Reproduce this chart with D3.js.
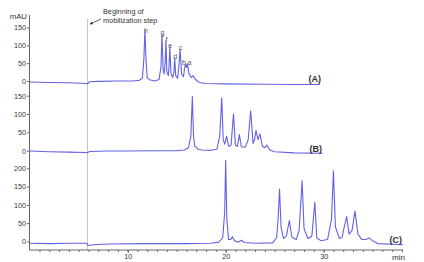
<!DOCTYPE html>
<html>
<head>
<meta charset="utf-8">
<script src="https://cdn.jsdelivr.net/npm/d3@7"></script>
<style>
  body { margin: 0; background: #fff; }
  svg { display: block; font-family: "Liberation Sans", Arial, sans-serif; }
  .ax text { fill: #333; font-size: 7.2px; }
  .ax line, .ax path { stroke: #666; }
</style>
</head>
<body>
<svg id="chart" width="424" height="262"></svg>
<script>
// chromatograms, [time (min), signal (mAU)]
var traceA = [[0,-3],[2,-4],[4,-5],[5.8,-7],[5.9,-8],[6.1,-2],[7,-1],[9,0],[10.5,0],[11.2,2],[11.5,8],[11.65,60],[11.76,143],[11.87,60],[12.0,8],[12.3,3],[12.8,0],[13.2,4],[13.4,40],[13.5,131],[13.62,30],[13.72,20],[13.82,50],[13.9,113],[14.0,25],[14.15,15],[14.22,40],[14.3,96],[14.42,20],[14.6,10],[14.72,25],[14.8,64],[14.9,15],[15.1,8],[15.22,40],[15.35,89],[15.5,20],[15.7,12],[15.8,35],[15.9,48],[16.0,38],[16.1,48],[16.25,20],[16.5,10],[16.7,15],[16.9,5],[17.3,-4],[18,-7],[20,-8],[24,-9],[27,-10],[29.6,-10]];
var traceB = [[0,-1],[2,-3],[4,-4],[5.8,-5],[5.9,-6],[6.1,-2],[8,-1],[10,-1],[13,0],[15,0],[15.8,2],[16.2,8],[16.45,40],[16.6,148],[16.72,40],[16.85,12],[17.0,9],[17.2,4],[17.6,2],[18.5,1],[19.1,4],[19.4,40],[19.6,144],[19.75,30],[19.9,18],[20.1,39],[20.3,12],[20.55,15],[20.8,100],[21.0,15],[21.2,12],[21.4,44],[21.6,10],[22.0,10],[22.3,30],[22.55,109],[22.8,20],[22.95,30],[23.1,55],[23.3,30],[23.5,46],[23.75,12],[24.0,8],[24.2,15],[24.5,2],[25,-3],[27,-6],[29.9,-7]];
var traceC = [[0,-5],[2,-6],[4,-5],[5.8,-5],[5.95,-11],[6.5,-9],[8,-7],[12,-6],[16,-6],[18.5,-5],[19.3,-2],[19.7,10],[19.9,80],[20.0,221],[20.12,60],[20.3,5],[20.5,5],[20.7,13],[20.9,2],[21.3,-2],[21.6,3],[21.9,-3],[23,-5],[24.8,-4],[25.2,10],[25.35,60],[25.5,143],[25.65,40],[25.9,8],[26.2,15],[26.5,57],[26.75,12],[27.2,5],[27.5,30],[27.8,166],[28.0,35],[28.4,8],[28.8,15],[29.1,107],[29.3,10],[29.7,2],[30.4,5],[30.8,60],[31.0,193],[31.2,40],[31.6,8],[31.9,12],[32.1,40],[32.35,68],[32.6,20],[32.9,30],[33.2,83],[33.5,20],[33.9,5],[34.3,5],[34.65,9],[35,2],[35.5,-6],[37,-8],[38.1,-9]];

// peak letters on trace A
var peakNames = ["h","g","f","e","d","c","b","a"];
var peakTimes = [11.76,13.5,13.9,14.3,14.8,15.35,15.9,16.15];
var peakTops  = [143,131,113,96,64,89,48,48];

var ticksAB = [0,50,100,150];
var ticksC = [0,50,100,150,200];
var xMajor = [10,20,30];
var startTime = 5.9;

var svg = d3.select('#chart');
var col = "#6262e6";

var x = d3.scaleLinear().domain([0, 38.1]).range([29.7, 403]);

// one y scale per stacked panel
var yA = d3.scaleLinear().domain([0,150]).range([81, 27.5]);
var yB = d3.scaleLinear().domain([0,150]).range([150.7, 95.7]);
var yC = d3.scaleLinear().domain([0,200]).range([241.4, 168.3]);

// start of mobilization
svg.append("line")
    .attr("x1", x(startTime)).attr("x2", x(startTime))
    .attr("y1", 19).attr("y2", 250)
    .attr("stroke", "#c4c4c4").attr("stroke-width", 1);

// y axes
function yAxis(sc, vals){
    var g = svg.append("g").attr("class","ax")
        .attr("transform","translate(29.5,0)")
        .call(d3.axisLeft(sc).tickValues(vals).tickSize(2.5).tickPadding(1));
    g.select(".domain").remove();
}
yAxis(yA, ticksAB);
yAxis(yB, ticksAB);
yAxis(yC, ticksC);

svg.append("line").attr("x1",29.5).attr("x2",29.5).attr("y1",15).attr("y2",250)
    .attr("stroke","#666");

// x axis with minor ticks
svg.append("g").attr("class","ax")
    .attr("transform","translate(0,250)")
    .call(d3.axisBottom(x).tickValues(d3.range(1,39)).tickSize(2).tickFormat(""))
    .select(".domain").attr("d","M29.5,0H403");
svg.append("g").attr("class","ax")
    .attr("transform","translate(0,250)")
    .call(d3.axisBottom(x).tickValues(xMajor).tickSize(3).tickPadding(1))
    .select(".domain").remove();

svg.append("text").attr("x",405).attr("y",260).attr("text-anchor","end")
    .attr("font-size",8).attr("fill","#333").text("min");
svg.append("text").attr("x",27).attr("y",19).attr("text-anchor","end")
    .attr("font-size",7.8).attr("fill","#333").text("mAU");

// traces
function trace(data, sc){
    svg.append("path").datum(data)
        .attr("fill","none").attr("stroke",col).attr("stroke-width",1.1)
        .attr("stroke-linejoin","round")
        .attr("d", d3.line().x(function(d){ return x(d[0]); }).y(function(d){ return sc(d[1]); }));
}
trace(traceA, yA);
trace(traceB, yB);
trace(traceC, yC);

// peak labels
svg.selectAll(".pk").data(peakNames).enter().append("text")
    .attr("class","pk")
    .attr("x", function(d,i){ return x(peakTimes[i]) + (d=="h" ? 1 : (d=="b" ? -1.5 : (d=="a" ? 1.5 : 0.5))); })
    .attr("y", function(d,i){ return yA(peakTops[i]) + (d=="h" ? 3.5 : 1); })
    .attr("text-anchor","middle").attr("font-size",7).attr("fill","#555")
    .text(function(d){ return d; });

// trace names
var names = ["(A)","(B)","(C)"];
var nameX = [321, 322, 402];
var nameY = [81.5, 152, 242.5];
svg.selectAll(".nm").data(names).enter().append("text")
    .attr("class","nm")
    .attr("x", function(d,i){ return nameX[i]; })
    .attr("y", function(d,i){ return nameY[i]; })
    .attr("text-anchor","end").attr("font-size",9).attr("font-weight","bold").attr("fill","#333")
    .text(function(d){ return d; });

// annotation
svg.append("text").attr("x",103).attr("y",13.5).attr("font-size",7.3).attr("fill","#333").text("Beginning of");
svg.append("text").attr("x",103).attr("y",23).attr("font-size",7.3).attr("fill","#333").text("mobilization step");
svg.append("defs").append("marker").attr("id","arr")
    .attr("viewBox","0 0 10 10").attr("refX",9).attr("refY",5)
    .attr("markerWidth",4).attr("markerHeight",4).attr("orient","auto")
    .append("path").attr("d","M0,0L10,5L0,10z").attr("fill","#333");
svg.append("line").attr("x1",101).attr("y1",19).attr("x2",90).attr("y2",24)
    .attr("stroke","#333").attr("stroke-width",0.8).attr("marker-end","url(#arr)");
</script>
</body>
</html>
